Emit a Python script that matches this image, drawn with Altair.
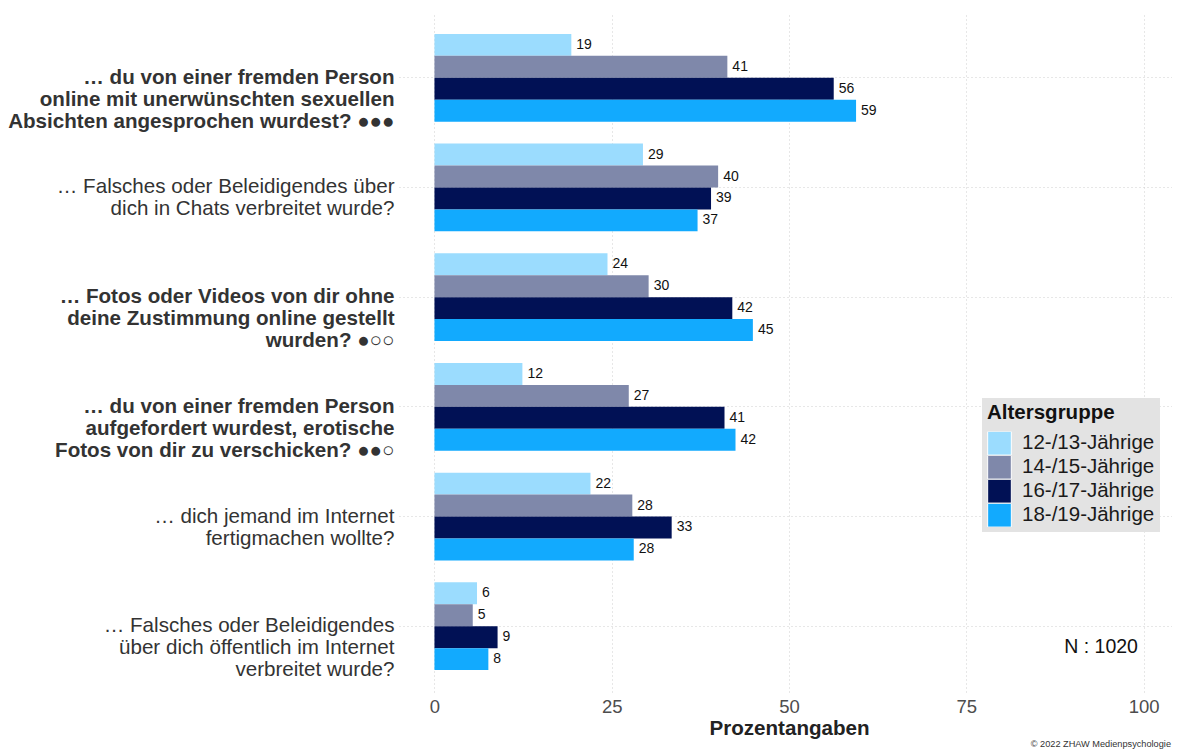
import altair as alt
import pandas as pd

questions = [
    "… du von einer fremden Person|online mit unerwünschten sexuellen|Absichten angesprochen wurdest? ●●●",
    "… Falsches oder Beleidigendes über|dich in Chats verbreitet wurde?",
    "… Fotos oder Videos von dir ohne|deine Zustimmung online gestellt|wurden? ●○○",
    "… du von einer fremden Person|aufgefordert wurdest, erotische|Fotos von dir zu verschicken? ●●○",
    "… dich jemand im Internet|fertigmachen wollte?",
    "… Falsches oder Beleidigendes|über dich öffentlich im Internet|verbreitet wurde?",
]
groups = ["12-/13-Jährige", "14-/15-Jährige", "16-/17-Jährige", "18-/19-Jährige"]
colors = ["#9BDCFE", "#7F88AA", "#011155", "#12AAFE"]
# percentages (bar lengths; labels show them rounded)
v_12_13 = [19.3, 29.4, 24.4, 12.4, 22.0, 6.0]
v_14_15 = [41.3, 40.0, 30.2, 27.4, 27.9, 5.4]
v_16_17 = [56.3, 39.0, 42.0, 40.9, 33.45, 8.9]
v_18_19 = [59.45, 37.1, 44.9, 42.45, 28.1, 7.6]
series = [v_12_13, v_14_15, v_16_17, v_18_19]

rows = []
for g, vals in zip(groups, series):
    for q, v in zip(questions, vals):
        rows.append({"Frage": q, "Altersgruppe": g, "Wert": v})
df = pd.DataFrame(rows)

FONT = "Liberation Sans"
W, H = 773, 680

y_enc = alt.Y(
    "Frage:N",
    sort=questions,
    scale=alt.Scale(paddingInner=0.2, paddingOuter=0.2),
    axis=alt.Axis(
        title=None,
        labelExpr="split(datum.label, '|')",
        labelFontSize=20.6,
        labelLineHeight=22,
        labelColor="#333333",
        labelFontWeight={"condition": {"test": "indexof(datum.value, '●') >= 0", "value": "bold"}, "value": "normal"},
        labelLimit=600,
        labelPadding=5,
        labelAlign="right",
        labelBaseline="middle",
        ticks=False,
        domain=False,
        grid=True,
        gridDash=[1, 3],
        gridColor="#cfcfcf",
    ),
)
x_enc = alt.X(
    "Wert:Q",
    scale=alt.Scale(domain=[-5, 104.0], nice=False, zero=False),
    axis=alt.Axis(
        title="Prozentangaben",
        values=[0, 25, 50, 75, 100],
        labelFontSize=18.5,
        labelColor="#4d4d4d",
        labelPadding=5,
        titleFontSize=20.6,
        titleFontWeight="bold",
        titleColor="#222222",
        titlePadding=3,
        titleX=390,
        ticks=False,
        domain=False,
        grid=True,
        gridDash=[1, 3],
        gridColor="#cfcfcf",
    ),
)
yoff = alt.YOffset("Altersgruppe:N", sort=groups, scale=alt.Scale(paddingInner=0, paddingOuter=0))

bars = alt.Chart(df).mark_bar().encode(
    y=y_enc,
    x=x_enc,
    yOffset=yoff,
    color=alt.Color(
        "Altersgruppe:N",
        sort=groups,
        scale=alt.Scale(domain=groups, range=colors),
        legend=alt.Legend(
            title="Altersgruppe",
            orient="none",
            legendX=583,
            legendY=386,
            fillColor="#e3e3e3",
            padding=5,
            titleFontSize=20.5,
            titleFont=FONT,
            titleFontWeight="bold",
            titleColor="#111111",
            titlePadding=8,
            labelFontSize=20.5,
            labelFont=FONT,
            labelColor="#1a1a1a",
            labelOffset=10,
            symbolType="square",
            symbolSize=560,
            symbolStrokeColor="white",
            symbolStrokeWidth=1,
            symbolOpacity=1,
            rowPadding=0,
            clipHeight=23.5,
        ),
    ),
)

labels = alt.Chart(df).mark_text(
    align="left", baseline="middle", dx=5, fontSize=14, font=FONT, color="#111111"
).encode(
    y=alt.Y("Frage:N", sort=questions),
    x=alt.X("Wert:Q"),
    yOffset=alt.YOffset("Altersgruppe:N", sort=groups),
    text=alt.Text("Wert:Q", format=".0f"),
)

n_df = pd.DataFrame({"t": ["N : 1020"]})
n_text = alt.Chart(n_df).mark_text(
    align="right", baseline="middle", fontSize=19.5, font=FONT, color="#111111"
).encode(x=alt.datum(99.2), y=alt.value(635), text="t:N")

c_df = pd.DataFrame({"t": ["© 2022 ZHAW Medienpsychologie"]})
c_text = alt.Chart(c_df).mark_text(
    align="right", baseline="bottom", fontSize=9.2, font=FONT, color="#333333"
).encode(x=alt.value(W - 1), y=alt.value(737), text="t:N")

chart = (
    alt.layer(bars, labels, n_text, c_text)
    .properties(
        width=W,
        height=H,
        autosize=alt.AutoSizeParams(type="none"),
        padding={"left": 391, "top": 4, "right": 0, "bottom": 57},
    )
    .configure(font=FONT)
    .configure_view(stroke=None)
)

chart.save("out.html", embed_options={"renderer": "svg", "actions": False})
